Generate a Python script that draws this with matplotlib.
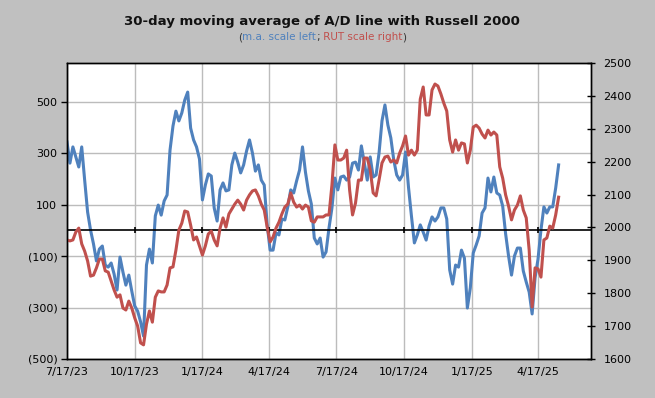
import matplotlib
matplotlib.use("Agg")
import matplotlib.pyplot as plt
import pandas as pd

# dates of the two series (every 4 days from 7/17/23)
dates = pd.date_range("2023-07-17", periods=168, freq="4D")

# 30-day moving average of the A/D line (left scale)
ad_ma = [343, 261, 324, 285, 246, 324, 195, 71, 1, -53,
         -119, -73, -61, -135, -143, -127, -170, -232, -104, -162,
         -213, -174, -236, -294, -314, -356, -411, -135, -73, -127,
         56, 98, 59, 114, 137, 312, 405, 463, 425, 456,
         506, 537, 397, 351, 324, 277, 118, 176, 219, 211,
         87, 36, 157, 184, 153, 157, 254, 300, 265, 223,
         254, 308, 351, 300, 230, 254, 195, 176, 21, -77,
         -77, -10, -18, 44, 40, 91, 157, 145, 192, 234,
         324, 226, 153, 102, -30, -53, -30, -104, -84, 9,
         87, 203, 157, 207, 211, 195, 207, 261, 265, 234,
         328, 261, 195, 285, 207, 215, 300, 425, 487, 409,
         359, 273, 215, 195, 215, 304, 168, 56, -49, -18,
         21, -7, -38, 17, 52, 36, 52, 87, 87, 44,
         -154, -209, -135, -143, -77, -108, -302, -224, -88, -57,
         -22, 67, 87, 203, 149, 207, 145, 137, 94, -14,
         -100, -174, -100, -69, -69, -158, -201, -240, -325, -185,
         -112, 1, 91, 67, 91, 91, 164, 254]

# Russell 2000 (right scale)
rut = [1962, 1959, 1962, 1986, 1998, 1950, 1928, 1898, 1852, 1855,
       1877, 1904, 1904, 1868, 1864, 1837, 1810, 1788, 1795, 1755,
       1749, 1776, 1755, 1725, 1700, 1649, 1643, 1706, 1746, 1712,
       1788, 1807, 1804, 1804, 1825, 1877, 1880, 1931, 1992, 2013,
       2050, 2047, 2007, 1962, 1971, 1944, 1916, 1944, 1980, 1989,
       1962, 1944, 1998, 2029, 2001, 2041, 2056, 2071, 2083, 2071,
       2053, 2083, 2099, 2111, 2114, 2096, 2071, 2053, 2001, 1956,
       1971, 1998, 2016, 2041, 2062, 2071, 2105, 2077, 2062, 2068,
       2056, 2068, 2062, 2020, 2016, 2032, 2032, 2032, 2038, 2038,
       2129, 2251, 2205, 2205, 2211, 2235, 2114, 2038, 2074, 2144,
       2144, 2211, 2211, 2175, 2105, 2096, 2144, 2196, 2214, 2217,
       2199, 2205, 2196, 2226, 2248, 2278, 2220, 2235, 2220, 2235,
       2390, 2427, 2342, 2342, 2418, 2436, 2430, 2406, 2378, 2354,
       2266, 2229, 2266, 2235, 2257, 2254, 2196, 2235, 2305, 2311,
       2302, 2284, 2272, 2296, 2281, 2290, 2281, 2184, 2150, 2099,
       2065, 2023, 2053, 2068, 2096, 2053, 2029, 1931, 1758, 1877,
       1874, 1849, 1962, 1968, 2004, 1998, 2038, 2092]

tick_dates = pd.to_datetime(["2023-07-17", "2023-10-17", "2024-01-17", "2024-04-17",
                             "2024-07-17", "2024-10-17", "2025-01-17", "2025-04-17"])
tick_labels = ["7/17/23", "10/17/23", "1/17/24", "4/17/24",
               "7/17/24", "10/17/24", "1/17/25", "4/17/25"]
left_ticks = [-500, -300, -100, 100, 300, 500]
left_labels = ["(500)", "(300)", "(100)", "100", "300", "500"]
right_ticks = [1600, 1700, 1800, 1900, 2000, 2100, 2200, 2300, 2400, 2500]

blue = "#4f81bd"
red = "#c0504d"
grid_c = "#bcbcbc"

fig = plt.figure(figsize=(6.55, 3.98), dpi=100, facecolor="#c0c0c0")
ax = fig.add_axes([67 / 655, 1 - 359 / 398, 524 / 655, 296 / 398])
ax2 = ax.twinx()

ax.plot(dates, ad_ma, color=blue, lw=2.2, solid_joinstyle="round")
ax2.plot(dates, rut, color=red, lw=2.2, solid_joinstyle="round")

ax.set_xlim(pd.Timestamp("2023-07-17"), pd.Timestamp("2025-06-28"))
ax.set_ylim(-500, 650)
ax2.set_ylim(1600, 2500)

ax.set_xticks(tick_dates)
ax.set_xticklabels(tick_labels)
ax.set_yticks(left_ticks)
ax.set_yticklabels(left_labels)
ax2.set_yticks(right_ticks)

ax.set_axisbelow(True)
ax.grid(True, color=grid_c, lw=1)
ax.axhline(0, color="black", lw=1.2, zorder=2)
ax.plot(tick_dates, [0] * len(tick_dates), ls="none", marker="|", ms=4.5,
        mew=1.2, color="black", zorder=2)

ax.tick_params(axis="x", length=0, pad=6, labelsize=8)
ax.tick_params(axis="y", direction="out", length=4, width=1, pad=3, labelsize=8)
ax2.tick_params(axis="y", direction="inout", length=6, width=1, pad=6, labelsize=8)

for a in (ax, ax2):
    for s in a.spines.values():
        s.set_color("black")
        s.set_linewidth(1)

fig.text(322 / 655, 1 - 22 / 398, "30-day moving average of A/D line with Russell 2000",
         ha="center", va="center", fontsize=9.5, fontweight="bold", color="#111111")

# subtitle with coloured parts
pieces = ["(", "m.a. scale left", ";", " RUT scale right", ")"]
colors = ["#333333", blue, "#333333", red, "#333333"]
renderer = fig.canvas.get_renderer()
texts = [fig.text(0, 1 - 37 / 398, p, color=c, fontsize=7.5, va="center", ha="left")
         for p, c in zip(pieces, colors)]
widths = [t.get_window_extent(renderer).width for t in texts]
x = 322 - sum(widths) / 2
for t, w in zip(texts, widths):
    t.set_x(x / 655)
    x += w

fig.savefig("out.png", dpi=100, facecolor=fig.get_facecolor())
